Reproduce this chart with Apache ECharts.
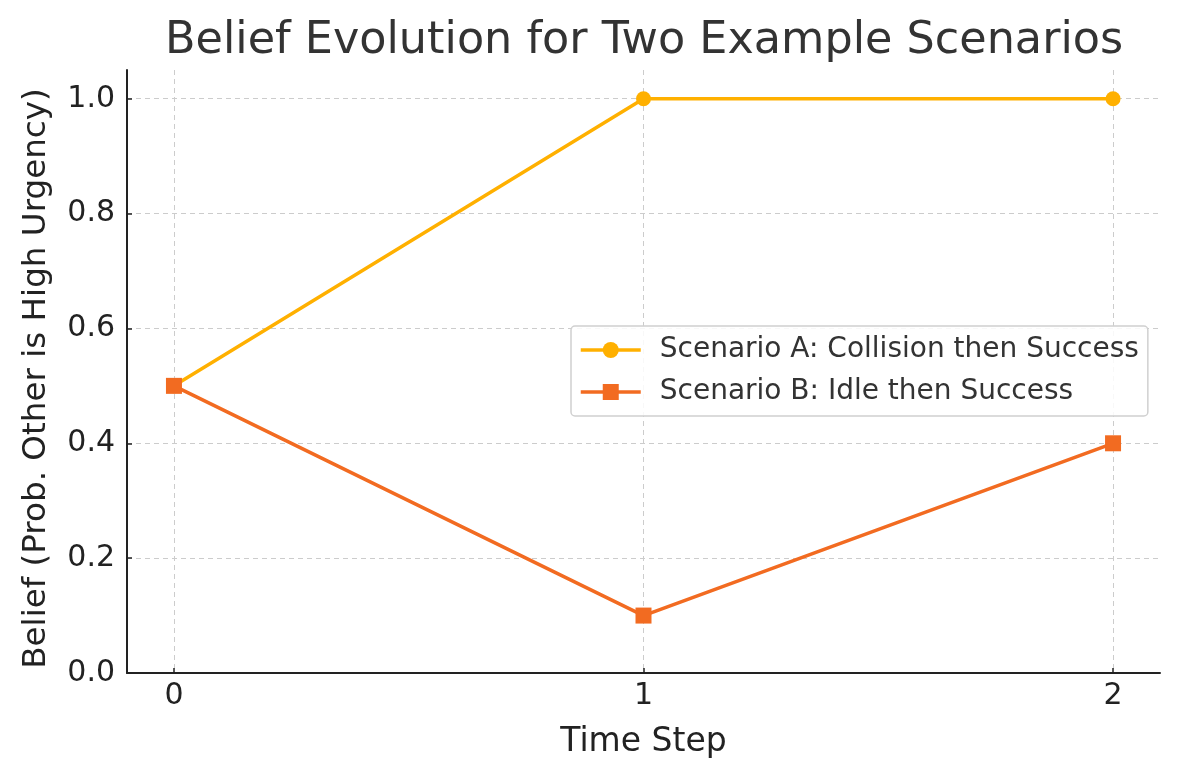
<!DOCTYPE html>
<html>
<head>
<meta charset="utf-8">
<script src="https://cdn.jsdelivr.net/npm/echarts@6/dist/echarts.min.js"></script>
<style>
  html, body { margin: 0; padding: 0; background: #fff; }
  #main { width: 1180px; height: 780px; }
</style>
</head>
<body>
<div id="main"></div>
<script>
// data
const timeSteps = [0, 1, 2];
const scenarioA = [0.5, 1.0, 1.0];
const scenarioB = [0.5, 0.1, 0.4];
const yTicks = [0, 0.2, 0.4, 0.6, 0.8, 1.0];
const seriesNames = ['Scenario A: Collision then Success', 'Scenario B: Idle then Success'];

const chart = echarts.init(document.getElementById('main'), null, { renderer: 'canvas' });

const font = 'DejaVu Sans';
const toPairs = (xs, ys) => xs.map((x, i) => [x, ys[i]]);

const option = {
  backgroundColor: '#ffffff',
  animation: false,
  title: {
    text: 'Belief Evolution for Two Example Scenarios',
    left: 160,
    top: 14,
    textStyle: { fontFamily: font, fontSize: 44.5, fontWeight: 'normal', color: '#333333' }
  },
  legend: {
    orient: 'vertical',
    left: 571,
    top: 326,
    padding: [9, 9, 9, 8],
    itemGap: 12,
    itemWidth: 60,
    itemHeight: 20,
    backgroundColor: 'rgba(255,255,255,0.85)',
    borderColor: '#d0d0d0',
    borderWidth: 1.5,
    borderRadius: 4,
    lineStyle: { width: 3.5 },
    textStyle: { fontFamily: font, fontSize: 28, lineHeight: 30, color: '#333333', padding: [0, 0, 0, 14] },
    data: seriesNames
  },
  grid: { left: 127, right: 20, top: 70, bottom: 107, containLabel: false },
  xAxis: {
    type: 'value',
    min: -0.1,
    max: 2.1,
    name: 'Time Step',
    nameLocation: 'middle',
    nameGap: 53,
    nameTextStyle: { fontFamily: font, fontSize: 33, color: '#222222' },
    axisLine: { show: true, onZero: false, lineStyle: { color: '#222222', width: 2 } },
    axisTick: { show: true, inside: true, length: 5, customValues: timeSteps, lineStyle: { color: '#222222', width: 1.5 } },
    axisLabel: { customValues: timeSteps, fontFamily: font, fontSize: 30, color: '#222222', margin: 8 },
    splitLine: { show: true, lineStyle: { color: '#cccccc', type: [5, 4], width: 1 } }
  },
  yAxis: {
    type: 'value',
    min: 0,
    max: 1.05,
    name: 'Belief (Prob. Other is High Urgency)',
    nameLocation: 'middle',
    nameRotate: 90,
    nameGap: 74,
    nameTextStyle: { fontFamily: font, fontSize: 32.6, color: '#222222', padding: [0, 14, 0, 0] },
    axisLine: { show: true, onZero: false, lineStyle: { color: '#222222', width: 2 } },
    axisTick: { show: true, inside: true, length: 5, customValues: yTicks, lineStyle: { color: '#222222', width: 1.5 } },
    axisLabel: {
      customValues: yTicks,
      fontFamily: font, fontSize: 30, color: '#222222', margin: 12,
      formatter: v => v.toFixed(1)
    },
    splitLine: { show: true, lineStyle: { color: '#cccccc', type: [5, 4], width: 1 } }
  },
  series: [
    {
      name: seriesNames[0],
      type: 'line',
      data: toPairs(timeSteps, scenarioA),
      symbol: 'circle',
      symbolSize: 15,
      lineStyle: { color: '#FFB000', width: 3.5 },
      itemStyle: { color: '#FFB000' },
      z: 2
    },
    {
      name: seriesNames[1],
      type: 'line',
      data: toPairs(timeSteps, scenarioB),
      symbol: 'rect',
      symbolSize: 16,
      lineStyle: { color: '#F26B21', width: 3.5 },
      itemStyle: { color: '#F26B21' },
      z: 3
    }
  ]
};

chart.setOption(option);
</script>
</body>
</html>
